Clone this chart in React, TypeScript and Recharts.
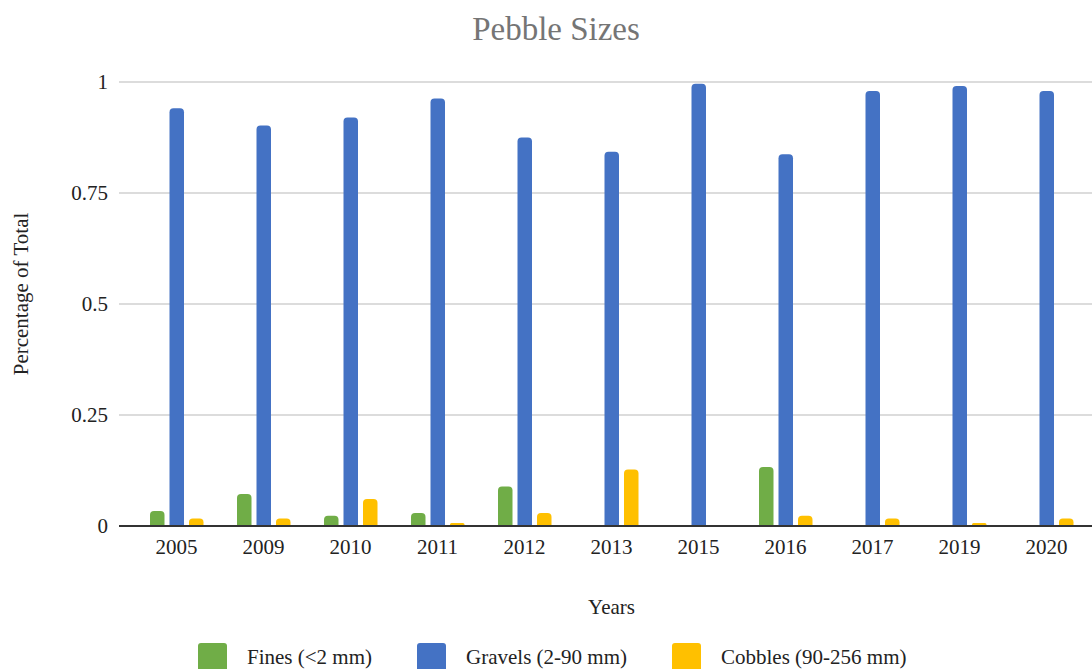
import React from "react";
import { BarChart, Bar, XAxis, YAxis, CartesianGrid } from "recharts";

// years sampled
const years = ["2005", "2009", "2010", "2011", "2012", "2013", "2015", "2016", "2017", "2019", "2020"];

// share of total count per size class
const fines = [0.034, 0.072, 0.023, 0.029, 0.089, 0, 0, 0.133, 0, 0, 0];
const gravels = [0.941, 0.902, 0.92, 0.963, 0.875, 0.843, 0.996, 0.837, 0.98, 0.991, 0.98];
const cobbles = [0.017, 0.017, 0.061, 0.007, 0.029, 0.127, 0, 0.023, 0.017, 0.007, 0.017];

const yTicks = [0, 0.25, 0.5, 0.75, 1];

const seriesNames = ["Fines (<2 mm)", "Gravels (2-90 mm)", "Cobbles (90-256 mm)"];
const seriesKeys = ["fines", "gravels", "cobbles"];
const seriesColors = ["#70AD47", "#4472C4", "#FFC000"];

const FONT = '"Liberation Serif", "Times New Roman", serif';

const data = years.map((year, i) => ({
    year,
    fines: fines[i],
    gravels: gravels[i],
    cobbles: cobbles[i],
}));

const YTitle = ({ viewBox }: any) => {
    const x = 28;
    const y = viewBox.y + viewBox.height / 2 - 10;
    return (
        <text
            x={x}
            y={y}
            transform={`rotate(-90, ${x}, ${y})`}
            textAnchor="middle"
            fill="#222"
            fontSize={21}
            fontFamily={FONT}
        >
            Percentage of Total
        </text>
    );
};

const XTitle = ({ viewBox }: any) => {
    // centre on the band area (axis has 14px left padding)
    const x = viewBox.x + 14 + (viewBox.width - 16) / 2;
    return (
        <text x={x} y={614} textAnchor="middle" fill="#222" fontSize={21} fontFamily={FONT}>
            Years
        </text>
    );
};

export default function App() {
    return (
        <div style={{ position: "relative", width: 1092, height: 669, overflow: "hidden", background: "#fff" }}>
            <style>{`body{margin:0}`}</style>

            {/* Title */}
            <div
                style={{
                    position: "absolute",
                    top: 13,
                    left: 0,
                    width: 1112,
                    textAlign: "center",
                    fontFamily: FONT,
                    fontSize: 33,
                    lineHeight: "33px",
                    color: "#757575",
                }}
            >
                Pebble Sizes
            </div>

            <BarChart
                width={1092}
                height={669}
                data={data}
                margin={{ top: 82, right: 0, left: 0, bottom: 53 }}
                barGap={5}
                barSize={14.5}
            >
                <CartesianGrid vertical={false} stroke="#d0d0d0" strokeWidth={1.5} />
                <XAxis
                    dataKey="year"
                    height={90}
                    padding={{ left: 14, right: 2 }}
                    axisLine={{ stroke: "#333", strokeWidth: 2 }}
                    tickLine={false}
                    tickSize={0}
                    tickMargin={13}
                    interval={0}
                    tick={{ fill: "#222", fontSize: 21, fontFamily: FONT }}
                    label={<XTitle />}
                />
                <YAxis
                    domain={[0, 1]}
                    ticks={yTicks}
                    width={119}
                    axisLine={false}
                    tickLine={false}
                    tickSize={0}
                    tickMargin={11}
                    tick={{ fill: "#222", fontSize: 21, fontFamily: FONT }}
                    label={<YTitle />}
                />
                {seriesKeys.map((key, i) => (
                    <Bar
                        key={key}
                        dataKey={key}
                        name={seriesNames[i]}
                        fill={seriesColors[i]}
                        radius={[4, 4, 0, 0]}
                        isAnimationActive={false}
                    />
                ))}
            </BarChart>

            {/* Legend */}
            <div
                style={{
                    position: "absolute",
                    top: 643,
                    left: 198,
                    display: "flex",
                    alignItems: "center",
                    fontFamily: FONT,
                    fontSize: 21,
                    lineHeight: "29px",
                    color: "#222",
                    whiteSpace: "nowrap",
                }}
            >
                {seriesNames.map((name, i) => (
                    <div key={name} style={{ display: "flex", alignItems: "center", marginRight: 45 }}>
                        <div
                            style={{
                                width: 29,
                                height: 29,
                                borderRadius: 3,
                                background: seriesColors[i],
                                marginRight: 20,
                            }}
                        />
                        <span>{name}</span>
                    </div>
                ))}
            </div>
        </div>
    );
}
